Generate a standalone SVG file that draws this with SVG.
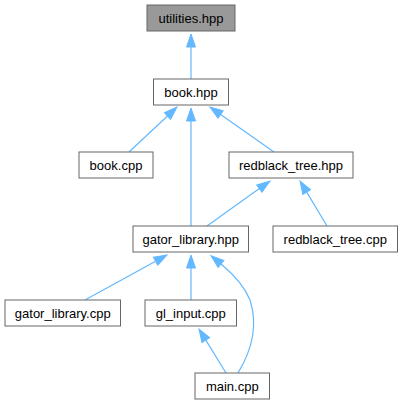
<svg xmlns="http://www.w3.org/2000/svg" width="403" height="405" viewBox="0 0 403 405">
<style>
.node rect{fill:#ffffff;stroke:#666666;stroke-width:1}
.node.cur rect{fill:#999999}
.node text{font-family:"Liberation Sans",Arial,Helvetica,sans-serif;font-size:13px;fill:#000000;text-anchor:middle}
.edges path{fill:none;stroke:#63b8ff;stroke-width:1.2;marker-end:url(#ah)}
</style>
<defs>
<marker id="ah" markerUnits="userSpaceOnUse" markerWidth="14" markerHeight="10" refX="0" refY="5" orient="auto" overflow="visible">
<path d="M0,0.5 L13,5 L0,9.5 Z" fill="#63b8ff" stroke="#63b8ff" stroke-width="1"/>
</marker>
</defs>
<rect width="403" height="405" fill="#ffffff"/>
<g class="edges" id="edges">
<path d="M191,79 L191,47"/>
<path d="M191,226 L191,121"/>
<path d="M129,152 L167.5,116"/>
<path d="M274,152 L220.6,114.5"/>
<path d="M207,226 L259.4,188.6"/>
<path d="M327,226 L306.7,192.1"/>
<path d="M85,300 L155.6,261.3"/>
<path d="M191,300 L191,268"/>
<path d="M226,373 L205.8,340.1"/>
<path d="M238,373 C252,350 258,325 250,300 C244,285 233,274 221,264"/>
</g>
<g class="node cur" id="utilities_hpp"><rect x="147" y="5" width="88" height="26"/><text x="191" y="22.5">utilities.hpp</text></g>
<g class="node" id="book_hpp"><rect x="153.5" y="79" width="75" height="26"/><text x="191" y="96.5">book.hpp</text></g>
<g class="node" id="book_cpp"><rect x="79" y="152" width="74" height="26"/><text x="116" y="169.5">book.cpp</text></g>
<g class="node" id="redblack_tree_hpp"><rect x="229" y="152" width="124" height="26"/><text x="291" y="169.5">redblack_tree.hpp</text></g>
<g class="node" id="gator_library_hpp"><rect x="133" y="226" width="115.5" height="26"/><text x="190.75" y="243.5">gator_library.hpp</text></g>
<g class="node" id="redblack_tree_cpp"><rect x="273" y="226" width="124.5" height="26"/><text x="335.25" y="243.5">redblack_tree.cpp</text></g>
<g class="node" id="gator_library_cpp"><rect x="5" y="300" width="115.5" height="26"/><text x="62.75" y="317.5">gator_library.cpp</text></g>
<g class="node" id="gl_input_cpp"><rect x="145" y="300" width="91.5" height="26"/><text x="190.75" y="317.5">gl_input.cpp</text></g>
<g class="node" id="main_cpp"><rect x="195" y="373" width="74.5" height="26"/><text x="232.25" y="390.5">main.cpp</text></g>
</svg>
